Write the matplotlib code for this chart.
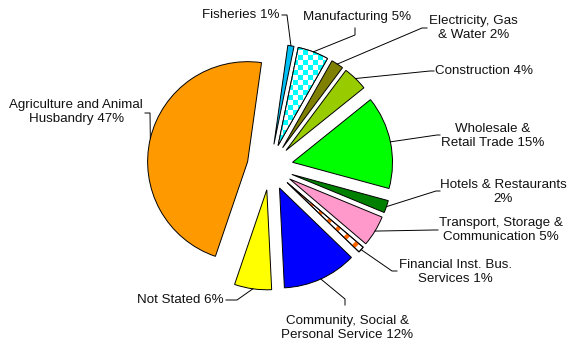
import matplotlib.pyplot as plt
import matplotlib.patches as mpatches
from matplotlib.colors import ListedColormap
import numpy as np

plt.rcParams['font.family'] = ['Liberation Sans', 'DejaVu Sans']
plt.rcParams['hatch.linewidth'] = 3.0

sectors = ['Fisheries', 'Manufacturing', 'Electricity, Gas\n& Water',
           'Construction', 'Wholesale &\nRetail Trade',
           'Hotels & Restaurants\n', 'Transport, Storage &\nCommunication',
           'Financial Inst. Bus.\nServices', 'Community, Social &\nPersonal Service',
           'Not Stated', 'Agriculture and Animal\nHusbandry']
shares = [1, 5, 2, 4, 15, 2, 5, 1, 12, 6, 47]
colors = ['#00BFF3', '#00FFFF', '#808000', '#99CC00', '#00FF00', '#008000',
          '#FF99CC', '#FFFFFF', '#0000FF', '#FFFF00', '#FF9900']

# pie centre / radius in pixels of the 569x343 figure
CX, CY, R = 270, 167, 100
W, H = 569, 343


def px(x, y):
    return (x - CX) / R, (CY - y) / R


fig = plt.figure(figsize=(5.69, 3.43), dpi=100)
ax = fig.add_axes([0, 0, 1, 1])

wedges, _ = ax.pie(shares, colors=colors, startangle=82, counterclock=False,
                   explode=[0.23] * len(shares), radius=1,
                   wedgeprops=dict(edgecolor='black', linewidth=0.7))

# checkerboard for manufacturing
mw = wedges[1]
mw.set_facecolor('white')
bb = mw.get_path().get_extents()
n = 30
cells = np.indices((n, n)).sum(axis=0) % 2
im = ax.imshow(cells, cmap=ListedColormap(['white', '#00FFFF']),
               interpolation='nearest', origin='lower',
               extent=(bb.x0, bb.x0 + n * 0.05, bb.y0, bb.y0 + n * 0.05),
               zorder=mw.get_zorder() + 0.1)
im.set_clip_path(mw)
outline = mpatches.Wedge(mw.center, mw.r, mw.theta1, mw.theta2,
                         facecolor='none', edgecolor='black', linewidth=0.7,
                         zorder=mw.get_zorder() + 0.2)
ax.add_patch(outline)

# stripes for financial
fw = wedges[7]
stripes = mpatches.Wedge(fw.center, fw.r, fw.theta1, fw.theta2,
                         facecolor='none', edgecolor='#FF6600', hatch='//',
                         linewidth=0, zorder=fw.get_zorder() + 0.1)
ax.add_patch(stripes)
ax.add_patch(mpatches.Wedge(fw.center, fw.r, fw.theta1, fw.theta2,
                            facecolor='none', edgecolor='black', linewidth=0.7,
                            zorder=fw.get_zorder() + 0.2))

# label layout: (elbow points in px, text pos in px, ha)
layout = [
    ([(287, 15), (282, 15)], (280, 15), 'right'),
    ([(355, 35), (355, 28)], (357, 17), 'center'),
    ([(422, 28), (427, 28)], (429, 28), 'left'),
    ([(430, 71), (434, 71)], (435, 71), 'left'),
    ([(437, 135), (440, 135)], (441, 136), 'left'),
    ([(436, 191), (440, 191)], (440, 192), 'left'),
    ([(434, 230), (438, 230)], (439, 230), 'left'),
    ([(392, 271), (397, 271)], (399, 272), 'left'),
    ([(345, 299), (345, 305)], (347, 328), 'center'),
    ([(237, 300), (226, 300)], (224, 300), 'right'),
    ([(150, 113), (145, 113)], (143, 112), 'right'),
]

for w, name, val, (elbows, tpos, ha) in zip(wedges, sectors, shares, layout):
    mid = np.deg2rad((w.theta1 + w.theta2) / 2)
    ax0 = w.center[0] + w.r * np.cos(mid)
    ay0 = w.center[1] + w.r * np.sin(mid)
    pts = [(ax0, ay0)] + [px(*p) for p in elbows]
    ax.plot([p[0] for p in pts], [p[1] for p in pts], color='black',
            linewidth=0.7, zorder=5)
    if name.endswith('\n'):
        label = name + f'{val}%'
    else:
        label = f'{name} {val}%'
    tx, ty = px(*tpos)
    ax.text(tx, ty, label, ha=ha, va='center', multialignment='center',
            fontsize=9.6, linespacing=1.3, color='#111111')

ax.set_xlim(-CX / R, (W - CX) / R)
ax.set_ylim((CY - H) / R, CY / R)
ax.set_aspect('equal')
ax.axis('off')

fig.savefig('out.png', dpi=100)
